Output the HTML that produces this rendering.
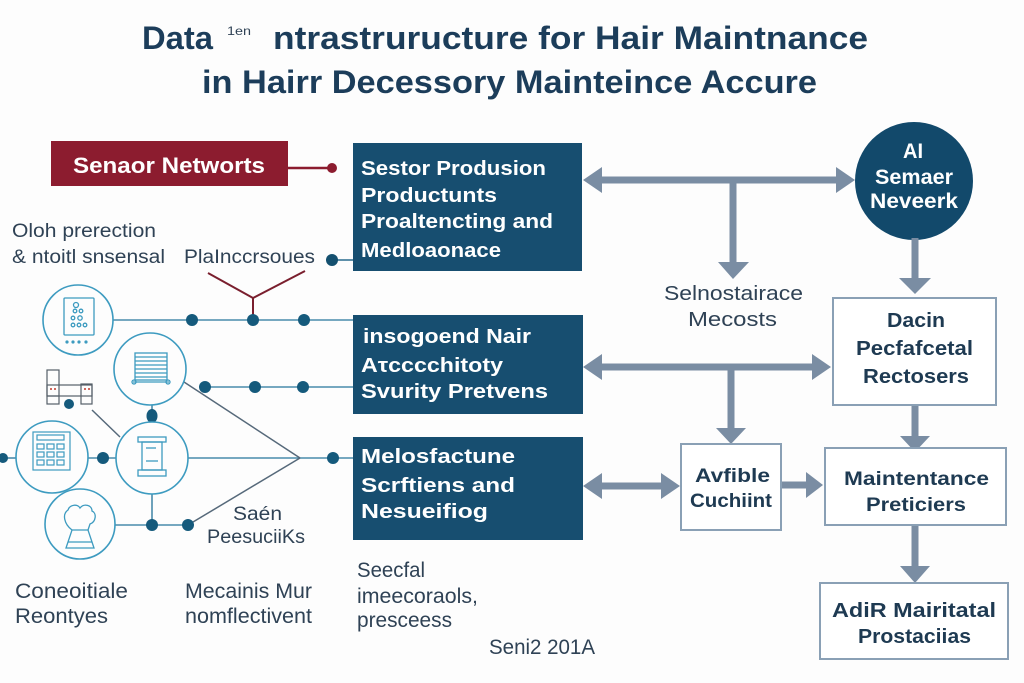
<!DOCTYPE html>
<html>
<head>
<meta charset="utf-8">
<style>
  html,body{margin:0;padding:0;background:#fdfdfd;}
  svg{display:block;}
  .t{font-family:"Liberation Sans",sans-serif;font-weight:bold;fill:#1c3d5a;}
  .b{font-family:"Liberation Sans",sans-serif;font-weight:bold;}
  .r{font-family:"Liberation Sans",sans-serif;fill:#2f4255;}
  .w{fill:#ffffff;}
  .n{fill:#1e3a52;}
</style>
</head>
<body>
<svg width="1024" height="683" viewBox="0 0 1024 683" xmlns="http://www.w3.org/2000/svg">
  <rect x="0" y="0" width="1024" height="683" fill="#fdfdfd"/>

  <!-- Title -->
  <text class="t" x="142" y="49" font-size="32" textLength="71" lengthAdjust="spacingAndGlyphs">Data</text>
  <text class="r" x="227" y="35" font-size="12" textLength="24" lengthAdjust="spacingAndGlyphs" fill="#1c3d5a">1en</text>
  <text class="t" x="273" y="49" font-size="32" textLength="595" lengthAdjust="spacingAndGlyphs">ntrastruructure for Hair Maintnance</text>
  <text class="t" x="202" y="93" font-size="32" textLength="615" lengthAdjust="spacingAndGlyphs">in Hairr Decessory Mainteince Accure</text>

  <!-- Sensor Networks red box -->
  <rect x="51" y="141" width="237" height="45" fill="#8c1c2f"/>
  <text class="b w" x="73" y="173" font-size="22" textLength="192" lengthAdjust="spacingAndGlyphs">Senaor Networts</text>
  <line x1="288" y1="168" x2="330" y2="168" stroke="#8c1c2f" stroke-width="2.5"/>
  <circle cx="332" cy="168" r="5" fill="#8c1c2f"/>

  <!-- left labels -->
  <text class="r" x="12" y="237" font-size="19" textLength="144" lengthAdjust="spacingAndGlyphs">Oloh prerection</text>
  <text class="r" x="12" y="263" font-size="19" textLength="153" lengthAdjust="spacingAndGlyphs">&amp; ntoitl snsensal</text>
  <text class="r" x="184" y="263" font-size="19" textLength="131" lengthAdjust="spacingAndGlyphs">PlaInccrsoues</text>

  <!-- dot to box1 -->
  <line x1="332" y1="260" x2="353" y2="260" stroke="#2a6d8f" stroke-width="1.5"/>
  <circle cx="332" cy="260" r="6" fill="#14506f"/>

  <!-- red Y -->
  <polyline points="208,273 253,298 305,271" fill="none" stroke="#7a1f2e" stroke-width="2"/>
  <line x1="253" y1="298" x2="253" y2="320" stroke="#7a1f2e" stroke-width="2"/>

  <!-- network lines -->
  <g stroke="#4a8bab" stroke-width="1.6" fill="none">
    <line x1="113" y1="320" x2="353" y2="320"/>
    <line x1="205" y1="387" x2="353" y2="387"/>
    <line x1="188" y1="458" x2="300" y2="458"/>
    <line x1="300" y1="458" x2="353" y2="458"/>
    <line x1="0" y1="458" x2="16" y2="458"/>
    <line x1="88" y1="458" x2="116" y2="458"/>
    <line x1="115" y1="525" x2="188" y2="525"/>
    <line x1="152" y1="405" x2="152" y2="422"/>
    <line x1="152" y1="494" x2="152" y2="525"/>
  </g>
  <g stroke="#56697a" stroke-width="1.5" fill="none">
    <line x1="184" y1="382" x2="300" y2="458"/>
    <line x1="188" y1="525" x2="300" y2="458"/>
    <line x1="92" y1="410" x2="120" y2="437"/>
  </g>

  <!-- dots -->
  <g fill="#155a7c">
    <circle cx="192" cy="320" r="6"/>
    <circle cx="253" cy="320" r="6"/>
    <circle cx="304" cy="320" r="6"/>
    <circle cx="205" cy="387" r="6"/>
    <circle cx="255" cy="387" r="6"/>
    <circle cx="303" cy="387" r="6"/>
    <ellipse cx="152" cy="416" rx="5.5" ry="7"/>
    <circle cx="333" cy="458" r="6"/>
    <circle cx="3" cy="458" r="5"/>
    <circle cx="103" cy="458" r="6"/>
    <circle cx="152" cy="525" r="6"/>
    <circle cx="188" cy="525" r="6"/>
    <circle cx="69" cy="404" r="5"/>
  </g>

  <!-- circles -->
  <g stroke="#3d9bc0" stroke-width="1.6" fill="#fdfdfd">
    <circle cx="78" cy="320" r="35"/>
    <circle cx="150" cy="369" r="36"/>
    <circle cx="152" cy="458" r="36"/>
    <circle cx="52" cy="457" r="36"/>
    <circle cx="80" cy="524" r="35"/>
  </g>

  <!-- icon 1: document -->
  <g stroke="#3d9bc0" stroke-width="1.3" fill="none">
    <rect x="64" y="298" width="30" height="37" rx="1"/>
    <circle cx="76" cy="305" r="2.5"/>
    <circle cx="75" cy="311" r="1.8"/><circle cx="81" cy="311" r="1.8"/>
    <circle cx="73" cy="318" r="1.8"/><circle cx="80" cy="318" r="2.2"/>
    <circle cx="73" cy="325" r="1.8"/><circle cx="79" cy="325" r="1.8"/><circle cx="85" cy="325" r="1.8"/>
  </g>
  <g fill="#3d9bc0">
    <circle cx="67" cy="342" r="1.6"/><circle cx="73" cy="342" r="1.6"/><circle cx="79" cy="342" r="1.6"/><circle cx="86" cy="342" r="1.6"/>
  </g>

  <!-- icon 2: blinds -->
  <g stroke="#3d9bc0" stroke-width="1.3" fill="none">
    <rect x="135" y="353" width="32" height="27"/>
    <line x1="135" y1="357" x2="167" y2="357"/>
    <line x1="135" y1="361" x2="167" y2="361"/>
    <line x1="135" y1="365" x2="167" y2="365"/>
    <line x1="135" y1="369" x2="167" y2="369"/>
    <line x1="135" y1="373" x2="167" y2="373"/>
    <line x1="135" y1="377" x2="167" y2="377"/>
    <line x1="133" y1="382" x2="169" y2="382"/>
    <circle cx="134" cy="382" r="2"/><circle cx="168" cy="382" r="2"/>
  </g>

  <!-- icon 3: pillar -->
  <g stroke="#3d9bc0" stroke-width="1.3" fill="none">
    <rect x="138" y="437" width="28" height="5"/>
    <rect x="142" y="442" width="20" height="28"/>
    <rect x="138" y="470" width="28" height="6"/>
    <line x1="146" y1="448" x2="156" y2="448"/>
    <line x1="146" y1="461" x2="158" y2="461"/>
  </g>

  <!-- icon 4: calculator -->
  <g stroke="#3d9bc0" stroke-width="1.2" fill="none">
    <rect x="33" y="432" width="37" height="38"/>
    <rect x="37" y="435" width="27" height="5"/>
    <rect x="37" y="444" width="7" height="5"/><rect x="47" y="444" width="7" height="5"/><rect x="57" y="444" width="7" height="5"/>
    <rect x="37" y="452" width="7" height="5"/><rect x="47" y="452" width="7" height="5"/><rect x="57" y="452" width="7" height="5"/>
    <rect x="37" y="460" width="7" height="5"/><rect x="47" y="460" width="7" height="5"/><rect x="57" y="460" width="7" height="5"/>
  </g>

  <!-- icon 5: hair/vase -->
  <g stroke="#3d9bc0" stroke-width="1.3" fill="none">
    <path d="M66,548 L94,548 L88,530 L72,530 Z"/>
    <line x1="68" y1="542" x2="92" y2="542"/>
    <path d="M72,530 C64,524 62,514 68,510 C70,504 78,504 80,508 C84,503 92,505 92,511 C97,513 96,522 90,524 L88,530"/>
  </g>

  <!-- icon left box structure -->
  <g stroke="#555f68" stroke-width="1.2" fill="none">
    <rect x="47" y="370" width="12" height="34"/>
    <rect x="47" y="385" width="45" height="11"/>
    <rect x="81" y="384" width="11" height="20"/>
    <line x1="47" y1="396" x2="59" y2="396"/>
  </g>
  <g fill="#c0392b">
    <circle cx="51" cy="389" r="1"/><circle cx="55" cy="389" r="1"/>
    <circle cx="85" cy="389" r="1"/><circle cx="89" cy="389" r="1"/>
  </g>

  <!-- left text -->
  <text class="r" x="233" y="520" font-size="19" textLength="49" lengthAdjust="spacingAndGlyphs">Saén</text>
  <text class="r" x="207" y="543" font-size="19" textLength="98" lengthAdjust="spacingAndGlyphs">PeesuciiKs</text>
  <text class="r" x="15" y="598" font-size="21" textLength="113" lengthAdjust="spacingAndGlyphs">Coneoitiale</text>
  <text class="r" x="15" y="623" font-size="21" textLength="93" lengthAdjust="spacingAndGlyphs">Reontyes</text>
  <text class="r" x="185" y="598" font-size="21" textLength="127" lengthAdjust="spacingAndGlyphs">Mecainis Mur</text>
  <text class="r" x="185" y="623" font-size="21" textLength="127" lengthAdjust="spacingAndGlyphs">nomflectivent</text>
  <text class="r" x="357" y="577" font-size="21" textLength="68" lengthAdjust="spacingAndGlyphs">Seecfal</text>
  <text class="r" x="357" y="603" font-size="21" textLength="121" lengthAdjust="spacingAndGlyphs">imeecoraols,</text>
  <text class="r" x="357" y="627" font-size="21" textLength="95" lengthAdjust="spacingAndGlyphs">presceess</text>
  <text class="r" x="489" y="654" font-size="21" textLength="106" lengthAdjust="spacingAndGlyphs">Seni2 201A</text>

  <!-- dark boxes -->
  <rect x="353" y="143" width="229" height="128" fill="#174e70"/>
  <rect x="353" y="315" width="230" height="99" fill="#174e70"/>
  <rect x="353" y="437" width="230" height="103" fill="#174e70"/>

  <text class="b w" x="361" y="175" font-size="20" textLength="185" lengthAdjust="spacingAndGlyphs">Sestor Produsion</text>
  <text class="b w" x="361" y="202" font-size="20" textLength="136" lengthAdjust="spacingAndGlyphs">Productunts</text>
  <text class="b w" x="361" y="228" font-size="20" textLength="192" lengthAdjust="spacingAndGlyphs">Proaltencting and</text>
  <text class="b w" x="361" y="257" font-size="20" textLength="140" lengthAdjust="spacingAndGlyphs">Medloaonace</text>

  <text class="b w" x="363" y="343" font-size="20" textLength="168" lengthAdjust="spacingAndGlyphs">insogoend Nair</text>
  <text class="b w" x="361" y="372" font-size="20" textLength="142" lengthAdjust="spacingAndGlyphs">Aτcccchitoty</text>
  <text class="b w" x="361" y="398" font-size="20" textLength="187" lengthAdjust="spacingAndGlyphs">Svurity Pretvens</text>

  <text class="b w" x="361" y="463" font-size="20" textLength="154" lengthAdjust="spacingAndGlyphs">Melosfactune</text>
  <text class="b w" x="361" y="492" font-size="20" textLength="154" lengthAdjust="spacingAndGlyphs">Scrftiens and</text>
  <text class="b w" x="361" y="518" font-size="20" textLength="127" lengthAdjust="spacingAndGlyphs">Nesueifiog</text>

  <!-- AI circle -->
  <circle cx="914" cy="181" r="59" fill="#12496b"/>
  <text class="b w" x="903" y="158" font-size="21" textLength="20" lengthAdjust="spacingAndGlyphs">AI</text>
  <text class="b w" x="875" y="184" font-size="21" textLength="78" lengthAdjust="spacingAndGlyphs">Semaer</text>
  <text class="b w" x="870" y="208" font-size="21" textLength="88" lengthAdjust="spacingAndGlyphs">Neveerk</text>

  <!-- arrows -->
  <g fill="#7a8da3">
    <polygon points="583,180 602,167 602,176.5 836,176.5 836,167 855,180 836,193 836,183.5 602,183.5 602,193"/>
    <rect x="729.5" y="180" width="7" height="83"/>
    <polygon points="718,262 749,262 733,279"/>
    <rect x="911.5" y="238" width="7" height="41"/>
    <polygon points="899,278 931,278 915,294"/>

    <polygon points="583,367 602,354 602,363.5 812,363.5 812,354 831,367 812,380 812,370.5 602,370.5 602,380"/>
    <rect x="727.5" y="367" width="7" height="62"/>
    <polygon points="716,428 746,428 731,444"/>
    <rect x="911.5" y="405" width="7" height="32"/>
    <polygon points="900,436 930,436 915,452"/>

    <polygon points="583,486 602,473 602,482.5 661,482.5 661,473 680,486 661,499 661,489.5 602,489.5 602,499"/>
    <rect x="781" y="481.5" width="26" height="7"/>
    <polygon points="806,472 806,498 823,485"/>
    <rect x="911.5" y="525" width="7" height="42"/>
    <polygon points="900,566 930,566 915,583"/>
  </g>

  <!-- outlined boxes -->
  <g fill="#ffffff" stroke="#8aa0b5" stroke-width="2">
    <rect x="833" y="298" width="163" height="107"/>
    <rect x="681" y="444" width="100" height="86"/>
    <rect x="825" y="448" width="181" height="77"/>
    <rect x="820" y="583" width="188" height="76"/>
  </g>

  <text class="r" x="664" y="300" font-size="20" textLength="139" lengthAdjust="spacingAndGlyphs" fill="#4b5866">Selnostairace</text>
  <text class="r" x="688" y="326" font-size="20" textLength="89" lengthAdjust="spacingAndGlyphs" fill="#4b5866">Mecosts</text>

  <text class="b n" x="887" y="327" font-size="20" textLength="58" lengthAdjust="spacingAndGlyphs">Dacin</text>
  <text class="b n" x="856" y="355" font-size="20" textLength="117" lengthAdjust="spacingAndGlyphs">Pecfafcetal</text>
  <text class="b n" x="863" y="383" font-size="20" textLength="106" lengthAdjust="spacingAndGlyphs">Rectosers</text>

  <text class="b n" x="695" y="482" font-size="19" textLength="75" lengthAdjust="spacingAndGlyphs">Avfible</text>
  <text class="b n" x="690" y="507" font-size="19" textLength="82" lengthAdjust="spacingAndGlyphs">Cuchiint</text>

  <text class="b n" x="844" y="485" font-size="19" textLength="145" lengthAdjust="spacingAndGlyphs">Maintentance</text>
  <text class="b n" x="866" y="511" font-size="19" textLength="100" lengthAdjust="spacingAndGlyphs">Preticiers</text>

  <text class="b n" x="832" y="617" font-size="20" textLength="164" lengthAdjust="spacingAndGlyphs">AdiR Mairitatal</text>
  <text class="b n" x="858" y="643" font-size="20" textLength="113" lengthAdjust="spacingAndGlyphs">Prostaciias</text>
</svg>
</body>
</html>
